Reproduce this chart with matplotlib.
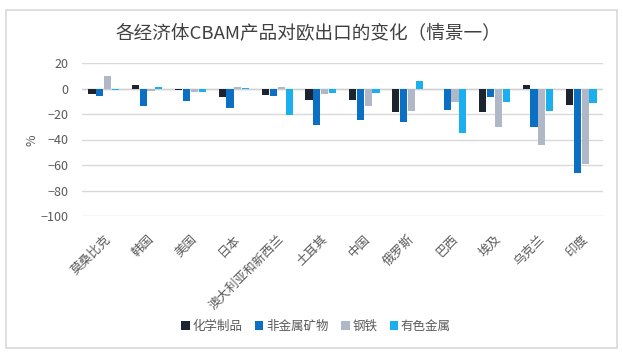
import numpy as np
import matplotlib
matplotlib.use("Agg")
import matplotlib.pyplot as plt
from matplotlib.patches import Rectangle

plt.rcParams['font.family'] = ['Noto Sans CJK SC', 'DejaVu Sans']

countries = ["莫桑比克", "韩国", "美国", "日本", "澳大利亚和新西兰", "土耳其",
             "中国", "俄罗斯", "巴西", "埃及", "乌克兰", "印度"]
chem = [-4, 2.5, -1, -7, -5, -9, -9, -18.5, -0.5, -18.5, 3, -13]
nonmetal = [-6, -14, -10, -15, -6, -29, -25, -26, -17, -6.5, -30.5, -66]
steel = [10, -2, -3, 1, 1, -4, -13.5, -17.5, -10.5, -30, -44.5, -59]
nonferrous = [-1, 1, -2.5, 0.5, -21, -3.5, -3.5, 5.5, -35, -10.5, -17.5, -11.5]

series = [("化学制品", chem, "#1c2430"),
          ("非金属矿物", nonmetal, "#0b6fc4"),
          ("钢铁", steel, "#b0b7c6"),
          ("有色金属", nonferrous, "#1ab0ef")]

fig = plt.figure(figsize=(6.23, 3.52), dpi=100)
fig.patches.append(Rectangle((6 / 623, 4 / 352), 611 / 623, 338 / 352,
                             transform=fig.transFigure, fill=False,
                             edgecolor="#d9d9d9", lw=1.2))
ax = fig.add_axes([82 / 623, 1 - 216 / 352, 521 / 623, 153 / 352])

x = np.arange(len(countries))
w = 0.18
for i, (name, vals, col) in enumerate(series):
    ax.bar(x + (i - 1.5) * w, vals, width=w * 0.92, color=col, label=name, zorder=3)

ax.set_ylim(-100, 20)
ax.set_xlim(-0.5, len(countries) - 0.5)
ax.set_yticks(np.arange(-100, 21, 20))
ax.grid(axis="y", color="#d9d9d9", lw=1, zorder=0)
ax.axhline(0, color="#d0d0d0", lw=1, zorder=2)
for s in ax.spines.values():
    s.set_visible(False)
ax.tick_params(axis="both", length=0, colors="#595959", labelsize=9)
ax.tick_params(axis="y", pad=10)
ax.set_xticks(x)
ax.set_xticklabels(countries, rotation=45, ha="right", rotation_mode="anchor")
ax.tick_params(axis="x", pad=12)

fig.text(32 / 623, 1 - 140 / 352, "%", rotation=90, ha="center", va="center",
         fontsize=9, color="#595959")

fig.text(0.495, 1 - 33 / 352, "各经济体CBAM产品对欧出口的变化（情景一）",
         ha="center", va="center", fontsize=13.4, color="#404040")

fig.legend(loc="center", bbox_to_anchor=(0.507, 1 - 326 / 352), ncol=4, frameon=False,
           fontsize=9, handlelength=0.7, handleheight=0.7, handletextpad=0.2,
           columnspacing=1.0, labelcolor="#595959")

fig.savefig("out.png", dpi=100)
